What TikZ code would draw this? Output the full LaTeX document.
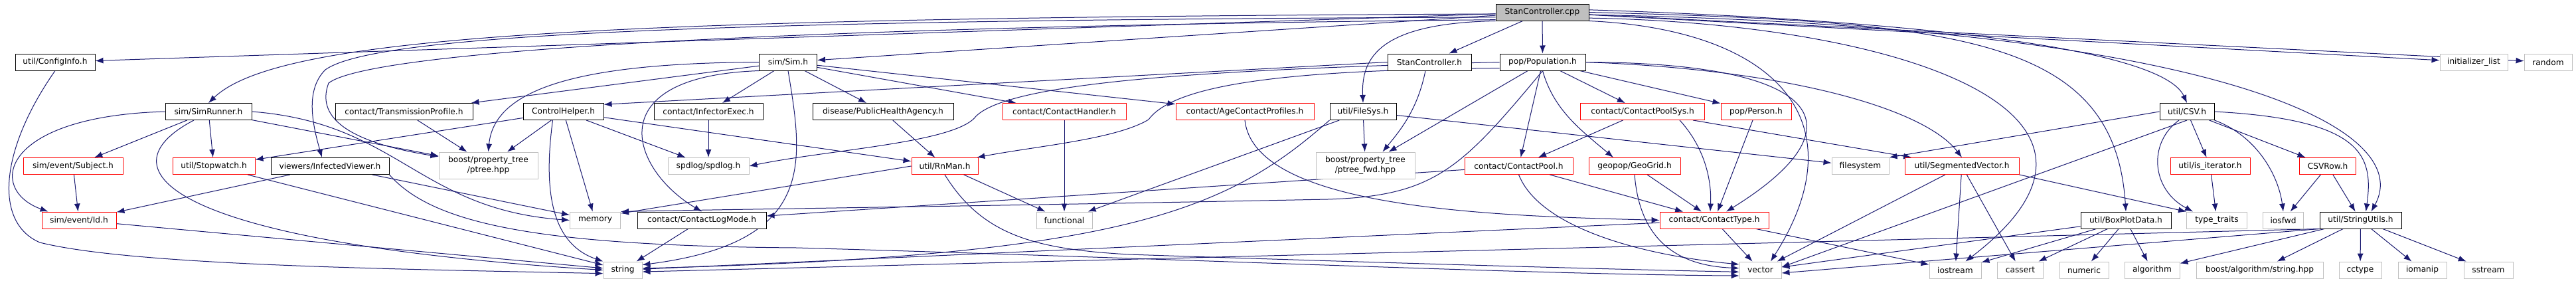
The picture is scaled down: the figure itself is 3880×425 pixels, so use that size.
\documentclass[tikz,border=0pt]{standalone}
\usepackage{fontspec}
\setmainfont{DejaVu Sans}
\usetikzlibrary{arrows.meta}
\definecolor{edgeblue}{RGB}{25,25,112}
\definecolor{sysgray}{RGB}{191,191,191}
\pgfdeclarelayer{bg}
\pgfsetlayers{bg,main}

\begin{document}
\begin{tikzpicture}[x=0.5pt, y=0.5pt,
				>={Latex[length=6pt,width=4.5pt]},   %Voreinstellung für Pfeilspitzen
				hdr/.style={draw=black, fill=white, line width=0.5pt, minimum height=12.5pt, inner sep=1pt, font=\fontsize{6.1}{7.5}\selectfont},
				hdrred/.style={hdr, draw=red, line width=0.45pt},
				sysinc/.style={hdr, draw=sysgray, line width=0.45pt},
				root/.style={hdr, fill=sysgray},
				twoline/.style={align=center, minimum height=20pt},
				incl/.style={->, draw=edgeblue, line width=0.5pt}]
				\useasboundingbox (0,0) rectangle (3880,425);
				% Wurzel
				\node[root, minimum width=70pt] (cpp) at (2323,406.5) {StanController.cpp};
				% Ebene 1
				\node[hdr, minimum width=60pt] (cfg) at (83,331.5) {util/ConfigInfo.h};
				\node[hdr, minimum width=43.5pt] (sim) at (1187,331.5) {sim/Sim.h};
				\node[hdr, minimum width=63pt] (stanh) at (2153,331.5) {StanController.h};
				\node[hdr, minimum width=64.5pt] (popu) at (2323.5,331.5) {pop/Population.h};
				\node[sysinc, minimum width=51pt] (initl) at (3726,331.5) {initializer\_list};
				\node[sysinc, minimum width=36pt] (rnd) at (3838,331.5) {random};
				% Ebene 2
				\node[hdr, minimum width=65pt] (simrun) at (314,257) {sim/SimRunner.h};
				\node[hdr, minimum width=103.5pt] (transm) at (608.5,257) {contact/TransmissionProfile.h};
				\node[hdr, minimum width=60.5pt] (ctrlh) at (848.5,257) {ControlHelper.h};
				\node[hdr, minimum width=82pt] (infexec) at (1067,257) {contact/InfectorExec.h};
				\node[hdr, minimum width=106pt] (pha) at (1330,257) {disease/PublicHealthAgency.h};
				\node[hdrred, minimum width=93pt] (conthand) at (1603,257) {contact/ContactHandler.h};
				\node[hdrred, minimum width=104pt] (agecp) at (1875,257) {contact/AgeContactProfiles.h};
				\node[hdr, minimum width=50pt] (filesys) at (2053,257) {util/FileSys.h};
				\node[hdrred, minimum width=93.5pt] (cpsys) at (2474,257) {contact/ContactPoolSys.h};
				\node[hdrred, minimum width=53pt] (person) at (2645,257) {pop/Person.h};
				\node[hdr, minimum width=41pt] (csv) at (3294,257) {util/CSV.h};
				% Ebene 3
				\node[hdrred, minimum width=75pt] (subj) at (110,175) {sim/event/Subject.h};
				\node[hdrred, minimum width=62pt] (stopw) at (322,175) {util/Stopwatch.h};
				\node[hdr, minimum width=89pt] (infview) at (497,175) {viewers/InfectedViewer.h};
				\node[sysinc, twoline, minimum width=74.5pt] (ptree) at (735.5,176) {boost/property\_tree\\/ptree.hpp};
				\node[sysinc, minimum width=61pt] (spdlog) at (1067,175) {spdlog/spdlog.h};
				\node[hdrred, minimum width=50pt] (rnman) at (1423,175) {util/RnMan.h};
				\node[sysinc, twoline, minimum width=74.5pt] (ptreefwd) at (2056.5,176) {boost/property\_tree\\/ptree\_fwd.hpp};
				\node[hdrred, minimum width=81.5pt] (cpool) at (2287.5,175) {contact/ContactPool.h};
				\node[hdrred, minimum width=69pt] (geogrid) at (2462,175) {geopop/GeoGrid.h};
				\node[sysinc, minimum width=43pt] (fsys) at (2802,175) {filesystem};
				\node[hdrred, minimum width=86pt] (segvec) at (2955,175) {util/SegmentedVector.h};
				\node[hdrred, minimum width=60pt] (isiter) at (3329,175) {util/is\_iterator.h};
				\node[hdrred, minimum width=42.5pt] (csvrow) at (3506,175) {CSVRow.h};
				% Ebene 4
				\node[hdrred, minimum width=56pt] (evid) at (119,93.5) {sim/event/Id.h};
				\node[sysinc, minimum width=38pt] (memory) at (896.5,93.5) {memory};
				\node[hdr, minimum width=97pt] (clogm) at (1057,93.5) {contact/ContactLogMode.h};
				\node[sysinc, minimum width=42pt] (functional) at (1603,93.5) {functional};
				\node[hdrred, minimum width=82pt] (ctype) at (2582,93.5) {contact/ContactType.h};
				\node[hdr, minimum width=68pt] (boxplot) at (3202,93.5) {util/BoxPlotData.h};
				\node[sysinc, minimum width=45.5pt] (typetr) at (3339,93.5) {type\_traits};
				\node[sysinc, minimum width=30.5pt] (iosfwd) at (3439,93.5) {iosfwd};
				\node[hdr, minimum width=61.5pt] (strutil) at (3555.5,93.5) {util/StringUtils.h};
				% Ebene 5
				\node[sysinc, minimum width=29pt] (string) at (938,18.5) {string};
				\node[sysinc, minimum width=31.5pt] (vector) at (2651.5,18.5) {vector};
				\node[sysinc, minimum width=39pt] (iostream) at (2945,18.5) {iostream};
				\node[sysinc, minimum width=34.5pt] (cassert) at (3043,18.5) {cassert};
				\node[sysinc, minimum width=37pt] (numeric) at (3139,18.5) {numeric};
				\node[sysinc, minimum width=41.5pt] (algorithm) at (3241.5,18.5) {algorithm};
				\node[sysinc, minimum width=95.5pt] (bstr) at (3403.5,18.5) {boost/algorithm/string.hpp};
				\node[sysinc, minimum width=32pt] (cctype) at (3555,18.5) {cctype};
				\node[sysinc, minimum width=36.5pt] (iomanip) at (3648.5,18.5) {iomanip};
				\node[sysinc, minimum width=37pt] (sstream) at (3748,18.5) {sstream};
				\begin{pgfonlayer}{bg}
				\fill[white] (0,0) rectangle (3880,425);
				% gerade Kanten
				\foreach \a/\b in {cpp/cfg, cpp/sim, cpp/stanh, cpp/popu, cpp/initl, cpp/rnd,
						sim/transm, sim/infexec, sim/pha, sim/conthand, sim/agecp,
						popu/ptreefwd, popu/cpool, popu/cpsys, popu/person,
						simrun/subj, simrun/stopw, simrun/ptree, transm/ptree,
						ctrlh/stopw, ctrlh/ptree, ctrlh/memory, ctrlh/spdlog, ctrlh/rnman,
						infexec/spdlog, pha/rnman, conthand/functional,
						filesys/ptreefwd, filesys/functional, filesys/fsys,
						cpsys/cpool, cpsys/segvec, person/ctype, csv/isiter, csv/csvrow,
						subj/evid, stopw/string, infview/evid, infview/memory,
						isiter/typetr, csvrow/iosfwd, csvrow/strutil,
						rnman/functional, cpool/ctype, cpool/clogm, geogrid/ctype,
						segvec/vector, segvec/iostream, segvec/cassert,
						evid/string, clogm/string, ctype/vector, ctype/iostream, ctype/string,
						boxplot/vector, boxplot/iostream, boxplot/cassert, boxplot/numeric, boxplot/algorithm,
						strutil/algorithm, strutil/bstr, strutil/cctype, strutil/iomanip, strutil/sstream}
					\draw[incl] (\a) -- (\b);
				% gerade Kanten mit Ankern
				\foreach \a/\b in {stanh.west/ctrlh.10, csv.west/fsys.north east, csv.south/vector.8,
						rnman.west/memory.15, segvec.south east/typetr.north west,
						strutil.south west/vector.-8, strutil.south west/string.-5}
					\draw[incl] (\a) -- (\b);
				% Bögen von StanController.cpp
				\draw[incl] (cpp.182) .. controls (900,398) and (420,372) .. (simrun.north);
				\draw[incl] (cpp.186) .. controls (1000,395) and (560,370) .. (490,320) .. controls (460,290) and (470,240) .. ([xshift=-6pt]infview.north);
				\draw[incl] (cpp.189) .. controls (1200,385) and (560,350) .. (495,300) .. controls (480,260) and (500,215) .. (ptree.170);
				\draw[incl] (cpp.south west) .. controls (2080,390) and (2050,340) .. (filesys.north);
				\draw[incl] (cpp.3) .. controls (2950,392) and (3260,345) .. (csv.north);
				\draw[incl] (cpp.east) .. controls (2950,392) and (3185,370) .. (boxplot.north);
				\draw[incl] (cpp.-3) .. controls (3350,385) and (3640,230) .. ([xshift=8pt]strutil.north);
				\draw[incl] (cpp.-7) .. controls (2850,390) and (3260,260) .. (iostream.40);
				\draw[incl] (cpp.south east) .. controls (2680,380) and (2800,240) .. (vector.40);
				% Bögen der Ebene 1
				\draw[incl] (cfg.south) .. controls (0,200) and (-10,90) .. (60,60) .. controls (200,25) and (600,20) .. (string.190);
				\draw[incl] (sim.west) .. controls (900,330) and (745,300) .. (ptree.north);
				\draw[incl] (sim.south west) .. controls (900,310) and (950,170) .. (clogm.north);
				\draw[incl] (sim.south) .. controls (1210,180) and (1230,60) .. (string.15);
				\draw[incl] ([xshift=-3pt]stanh.south) .. controls (2135,260) and (2110,230) .. ([xshift=13pt]ptreefwd.north);
				\draw[incl] (popu.south) .. controls (2200,170) and (2160,130) .. (2000,125) .. controls (1500,115) and (1100,110) .. (memory.north east);
				\draw[incl] (popu.south) .. controls (2340,260) and (2380,230) .. ([xshift=-16pt]geogrid.north);
				\draw[incl] (popu.east) .. controls (2760,330) and (2800,230) .. ([xshift=9pt]ctype.north);
				\draw[incl] (popu.east) .. controls (2700,320) and (2900,260) .. (segvec.north);
				\draw[incl] (popu.188) .. controls (1950,320) and (1770,300) .. (1730,245) .. controls (1680,215) and (1560,205) .. (rnman.15);
				\draw[incl] (popu.west) .. controls (1800,320) and (1520,300) .. (1470,250) .. controls (1440,210) and (1250,200) .. (spdlog.east);
				% Bögen der Ebene 2
				\draw[incl] (simrun.west) .. controls (0,250) and (-20,140) .. ([xshift=5pt]evid.north west);
				\draw[incl] ([xshift=-11pt]simrun.south) .. controls (150,170) and (250,60) .. (string.west);
				\draw[incl] (simrun.east) .. controls (600,240) and (630,110) .. (memory.west);
				\draw[incl] ([xshift=-8pt]ctrlh.south) .. controls (820,150) and (825,60) .. (string.north west);
				\draw[incl] (agecp.south) .. controls (1890,110) and (2250,100) .. (ctype.west);
				\draw[incl] (filesys.south west) .. controls (1850,110) and (1700,40) .. (string.5);
				\draw[incl] ([xshift=28pt]cpsys.south) .. controls (2570,200) and (2578,150) .. ([xshift=-3pt]ctype.north);
				\draw[incl] ([xshift=-6pt]csv.south) .. controls (3235,210) and (3240,140) .. ([xshift=-18pt]typetr.north);
				\draw[incl] (csv.south east) .. controls (3400,220) and (3432,160) .. (iosfwd.north);
				\draw[incl] (csv.east) .. controls (3560,245) and (3575,190) .. ([xshift=4pt]strutil.north);
				% Bögen der Ebene 3
				\draw[incl] (infview.south east) .. controls (650,90) and (800,55) .. (1200,52) .. controls (1800,35) and (2300,12) .. (vector.195);
				\draw[incl] (rnman.south) .. controls (1480,70) and (1560,50) .. (1700,42) .. controls (2000,32) and (2400,20) .. (vector.185);
				\draw[incl] (cpool.south) .. controls (2320,80) and (2480,40) .. (vector.165);
				\draw[incl] (geogrid.south) .. controls (2470,60) and (2530,25) .. (vector.175);
				\end{pgfonlayer}
			\end{tikzpicture}
\end{document}
